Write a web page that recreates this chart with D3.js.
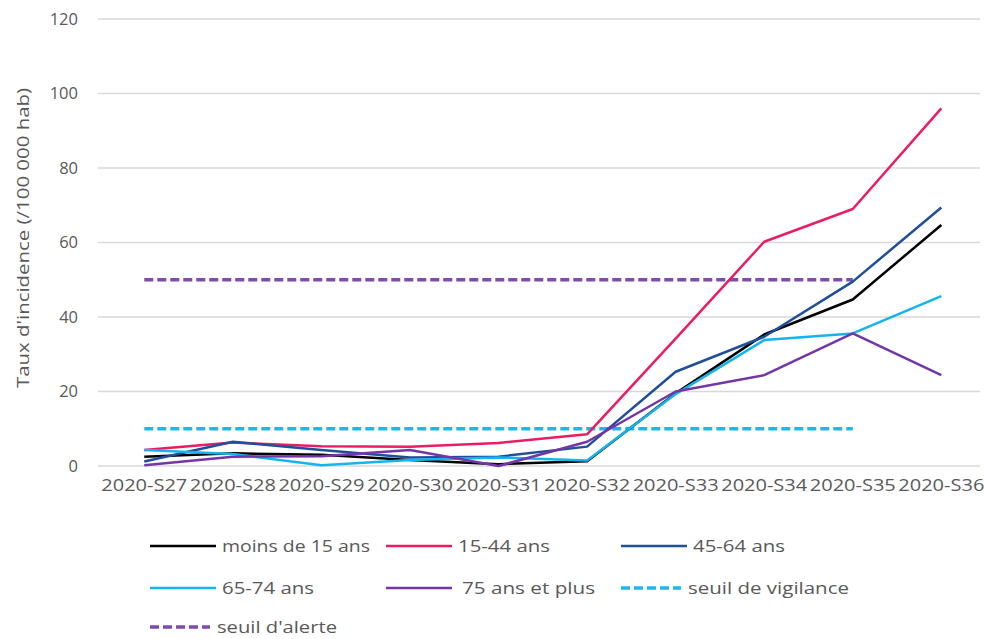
<!DOCTYPE html>
<html>
<head>
<meta charset="utf-8">
<script src="https://cdn.jsdelivr.net/npm/d3@7"></script>
<style>
  body { margin: 0; background: #fff; }
  text { font-family: "Open Sans", "Noto Sans", sans-serif; fill: #595959; }
</style>
</head>
<body>
<div id="chart"></div>
<script>
var svgWidth = 985;
var svgHeight = 639;

// weeks on the x axis
var weeks = ["2020-S27", "2020-S28", "2020-S29", "2020-S30", "2020-S31",
  "2020-S32", "2020-S33", "2020-S34", "2020-S35", "2020-S36"];

// incidence rate per age group (/100 000 hab)
var moins15 = [2.5, 3.4, 3, 1.6, 0.5, 1.3, 19.5, 35.3, 44.7, 64.7];
var ans15_44 = [4.3, 6.3, 5.3, 5.2, 6.2, 8.5, 34.2, 60.2, 69, 96];
var ans45_64 = [1.2, 6.5, 4.3, 2.3, 2.5, 5.2, 25.3, 34.7, 49.5, 69.4];
var ans65_74 = [4.3, 3.2, 0.2, 1.6, 2.3, 1.5, 19.3, 33.8, 35.6, 45.6];
var ans75plus = [0.2, 2.5, 2.6, 4.3, 0, 6.5, 20, 24.4, 35.6, 24.4];
var seuilVigilance = [10, 10, 10, 10, 10, 10, 10, 10, 10];
var seuilAlerte = [50, 50, 50, 50, 50, 50, 50, 50, 50];

var yTicks = [0, 20, 40, 60, 80, 100, 120];

var series = [
  { name: "moins de 15 ans", values: moins15, color: "#000000", dashed: false },
  { name: "15-44 ans", values: ans15_44, color: "#EC1C63", dashed: false },
  { name: "45-64 ans", values: ans45_64, color: "#1F4E9A", dashed: false },
  { name: "65-74 ans", values: ans65_74, color: "#14B4EE", dashed: false },
  { name: "75 ans et plus", values: ans75plus, color: "#7336A6", dashed: false },
  { name: "seuil de vigilance", values: seuilVigilance, color: "#1EB6F0", dashed: true },
  { name: "seuil d'alerte", values: seuilAlerte, color: "#7E4BAE", dashed: true }
];

// legend text widths measured on the picture
var legendTextWidth = [148, 92, 92, 92, 133, 161, 120];

var svg = d3.select("#chart")
  .append("svg")
  .attr("width", svgWidth)
  .attr("height", svgHeight);

var x = d3.scaleBand()
  .domain(weeks)
  .range([100, 985.6]);

var y = d3.scaleLinear()
  .domain([0, 120])
  .range([466, 19]);

// gridlines
svg.append("g")
  .selectAll("line")
  .data(yTicks)
  .enter()
  .append("line")
  .attr("x1", 98)
  .attr("x2", 980)
  .attr("y1", d => y(d))
  .attr("y2", d => y(d))
  .attr("stroke", "#d9d9d9")
  .attr("stroke-width", 1.3);

// y axis labels
var leftAxis = d3.axisLeft(y).tickValues(yTicks).tickSize(0).tickPadding(0);
var yAxis = svg.append("g")
  .attr("transform", "translate(78,0)")
  .call(leftAxis);
yAxis.select(".domain").remove();
yAxis.selectAll("text")
  .attr("font-size", 16.5)
  .attr("font-family", null)
  .attr("fill", null);

// x axis labels
var bottomAxis = d3.axisBottom(x).tickSize(0).tickPadding(0);
var xAxis = svg.append("g")
  .attr("transform", "translate(0,485)")
  .call(bottomAxis);
xAxis.select(".domain").remove();
xAxis.selectAll("text")
  .attr("font-size", 16)
  .attr("dy", "0.35em")
  .attr("font-family", null)
  .attr("fill", null)
  .attr("textLength", 86)
  .attr("lengthAdjust", "spacingAndGlyphs");

// y axis title
svg.append("text")
  .attr("transform", "translate(29,238) rotate(-90)")
  .attr("text-anchor", "middle")
  .attr("font-size", 17)
  .attr("textLength", 300)
  .attr("lengthAdjust", "spacingAndGlyphs")
  .text("Taux d'incidence (/100 000 hab)");

var line = d3.line()
  .x((d, i) => x(weeks[i]) + x.bandwidth() / 2)
  .y(d => y(d));

// dashed thresholds drawn first, age groups on top
var order = [5, 6, 0, 1, 2, 3, 4];
svg.append("g")
  .selectAll("path")
  .data(order.map(i => series[i]))
  .enter()
  .append("path")
  .attr("d", d => line(d.values))
  .attr("fill", "none")
  .attr("stroke", d => d.color)
  .attr("stroke-width", d => d.dashed ? 3.5 : 2.5)
  .attr("stroke-dasharray", d => d.dashed ? "9,4" : null)
  .attr("stroke-linejoin", "round");

// legend
var legendX = [150, 386, 621];
var legendY = [546, 588, 627];
var legend = svg.append("g")
  .selectAll("g")
  .data(series)
  .enter()
  .append("g")
  .attr("transform", (d, i) => `translate(${legendX[i % 3]},${legendY[Math.floor(i / 3)]})`);

legend.append("line")
  .attr("x1", 0)
  .attr("x2", d => d.dashed ? 60 : 66)
  .attr("y1", 0)
  .attr("y2", 0)
  .attr("stroke", d => d.color)
  .attr("stroke-width", d => d.dashed ? 3.5 : 2.5)
  .attr("stroke-dasharray", d => d.dashed ? "9,4" : null);

legend.append("text")
  .attr("x", d => d.name == "75 ans et plus" ? 76 : d.dashed ? 67 : 72)
  .attr("y", 0)
  .attr("dy", "0.35em")
  .attr("font-size", 17)
  .attr("textLength", (d, i) => legendTextWidth[i])
  .attr("lengthAdjust", "spacingAndGlyphs")
  .text(d => d.name);
</script>
</body>
</html>
